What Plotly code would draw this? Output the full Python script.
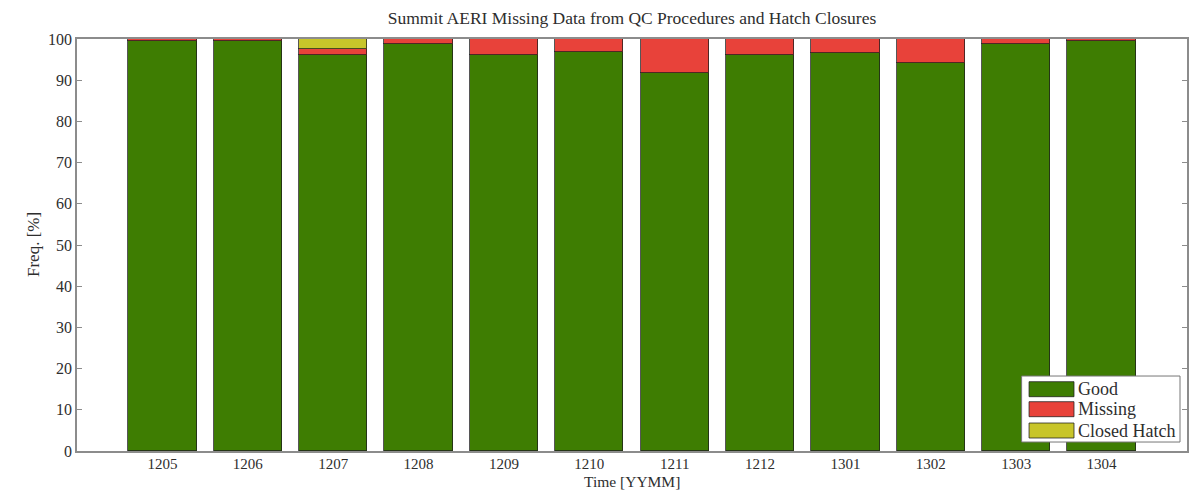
import plotly.graph_objects as go

# Monthly AERI data availability at Summit (percent of samples)
months = ["1205", "1206", "1207", "1208", "1209", "1210",
          "1211", "1212", "1301", "1302", "1303", "1304"]
good = [99.6, 99.5, 96.1, 98.7, 96.1, 96.9, 91.8, 96.2, 96.7, 94.2, 98.8, 99.4]
missing = [0.4, 0.5, 1.5, 1.3, 3.9, 3.1, 8.2, 3.8, 3.3, 5.8, 1.2, 0.6]
closed_hatch = [0.0, 0.0, 2.4, 0.0, 0.0, 0.0, 0.0, 0.0, 0.0, 0.0, 0.0, 0.0]

series_names = ["Good", "Missing", "Closed Hatch"]
series_colors = ["#3e7d02", "#e8423a", "#c8c52a"]
series_values = [good, missing, closed_hatch]

FONT = "Liberation Serif"
TXT = "#2e2e2e"
AX = "#8c8c8c"

# plot area in pixels
L, R, T, B = 77, 1187, 39, 451
PH = B - T

xpos = list(range(len(months)))

fig = go.Figure()
for name, color, vals in zip(series_names, series_colors, series_values):
    fig.add_trace(go.Bar(
        x=xpos, y=vals, name=name, width=0.8,
        marker=dict(color=color, line=dict(color="rgba(30,30,30,0.75)", width=1)),
        showlegend=False,
    ))

# Boxed legend with wide colour swatches in the lower-right corner
lx0, lx1, ly0, ly1 = 0.851, 0.9937, 0.0218, 0.182
fig.add_shape(type="rect", xref="paper", yref="paper", x0=lx0, x1=lx1, y0=ly0, y1=ly1,
              line=dict(color="#777777", width=1), fillcolor="white", layer="above")
row_tops = [381.7, 401.7, 423.0]
for name, color, top in zip(series_names, series_colors, row_tops):
    y1 = (B - top) / PH
    y0 = (B - top - 15) / PH
    fig.add_shape(type="rect", xref="paper", yref="paper",
                  x0=0.8577, x1=0.8982, y0=y0, y1=y1,
                  line=dict(color="rgba(30,30,30,0.75)", width=1), fillcolor=color, layer="above")
    fig.add_annotation(xref="paper", yref="paper", x=0.9000, y=(y0 + y1) / 2,
                       text=name, showarrow=False, xanchor="left", yanchor="middle",
                       font=dict(family=FONT, size=18, color=TXT))

# x-axis title, sitting low near the bottom edge
fig.add_annotation(xref="paper", yref="paper", x=0.5, y=(B - 481) / PH,
                   text="Time [YYMM]", showarrow=False, xanchor="center", yanchor="middle",
                   font=dict(family=FONT, size=15.5, color=TXT))
# y-axis title
fig.add_annotation(xref="paper", yref="paper", x=(33 - L) / (R - L), y=0.5,
                   text="Freq. [%]", showarrow=False, xanchor="center", yanchor="middle",
                   textangle=-90, font=dict(family=FONT, size=17, color=TXT))

fig.update_layout(
    barmode="stack",
    width=1200, height=490,
    margin=dict(l=L, r=1200 - R, t=T, b=490 - B, autoexpand=False),
    paper_bgcolor="white", plot_bgcolor="white",
    title=dict(text="Summit AERI Missing Data from QC Procedures and Hatch Closures",
               x=(L + R) / 2 / 1200, xanchor="center", y=1 - 18 / 490, yanchor="middle",
               font=dict(family=FONT, size=17.5, color=TXT)),
    font=dict(family=FONT, size=15, color=TXT),
    bargap=0,
)
fig.update_xaxes(
    range=[-1, 12], tickvals=xpos, ticktext=months,
    showline=True, linecolor=AX, linewidth=1.5, mirror=True,
    ticks="", showgrid=False, zeroline=False, automargin=False,
    ticklabelstandoff=-2,
    tickfont=dict(family=FONT, size=15, color=TXT),
)
fig.update_yaxes(
    range=[0, 100], dtick=10,
    showline=True, linecolor=AX, linewidth=1.5, mirror="ticks",
    ticks="inside", ticklen=5, tickcolor=AX,
    showgrid=False, zeroline=False, automargin=False,
    tickfont=dict(family=FONT, size=16, color=TXT),
)

fig.write_html("out.html")
